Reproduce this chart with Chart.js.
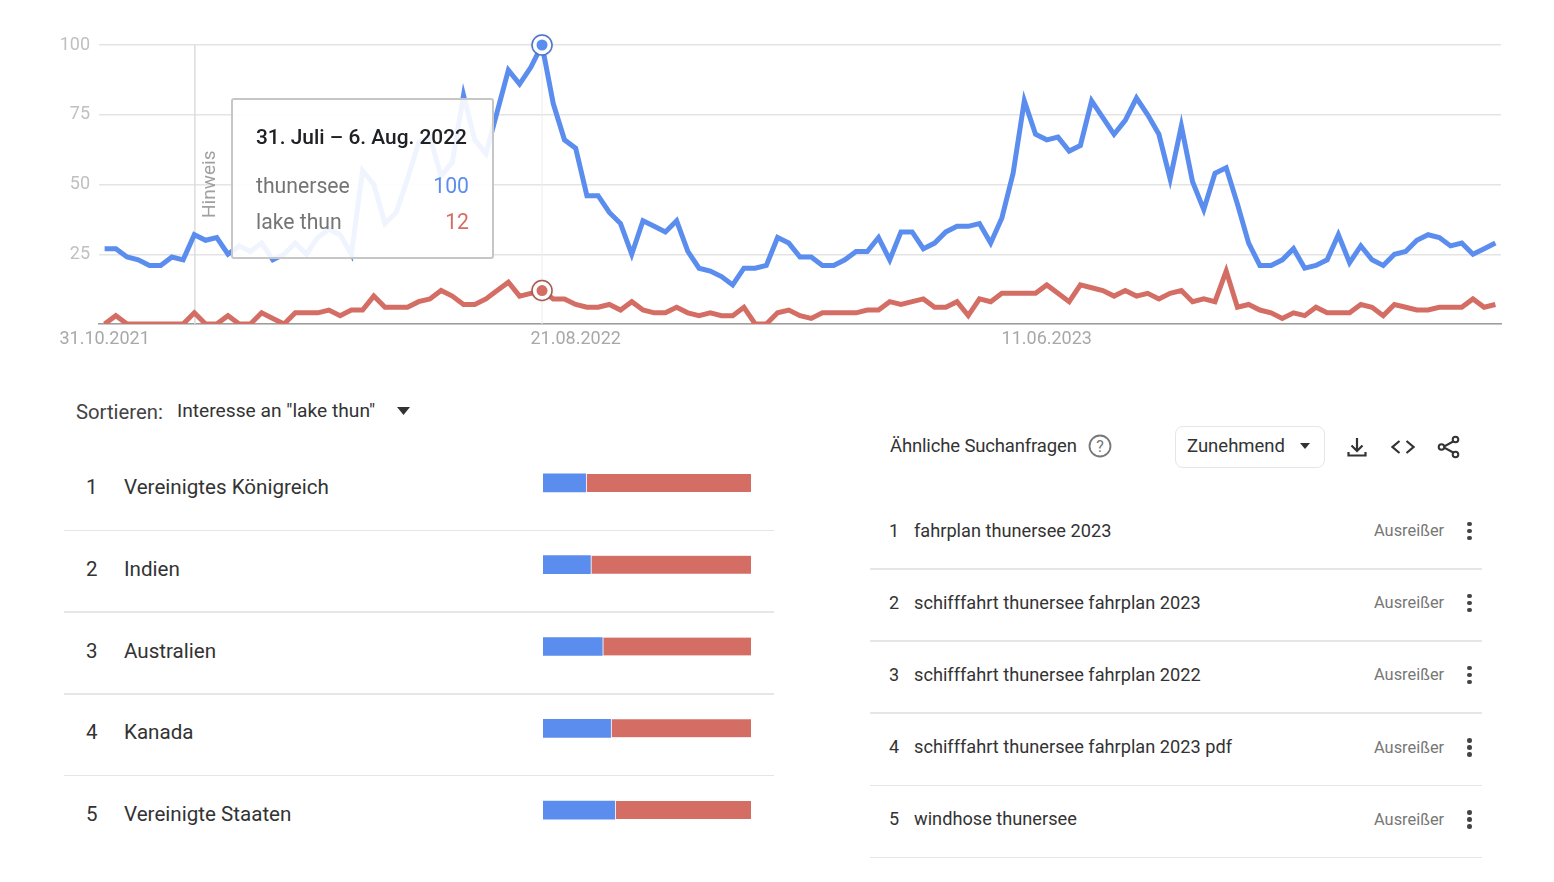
<!DOCTYPE html>
<html>
<head>
    <title>thunersee / lake thun</title>
    <script src="https://cdn.jsdelivr.net/npm/chart.js"></script>
    <style>
        html, body {
            margin: 0;
            padding: 0;
            background: #fff;
            overflow: hidden;
        }
        body {
            width: 1554px;
            height: 882px;
            position: relative;
            font-family: Roboto, sans-serif;
        }
        canvas, .txt, .line, .tooltip, svg {
            position: absolute;
        }
        .txt {
            white-space: nowrap;
            line-height: 1;
            transform: translateY(-50%);
        }
        .line {
            height: 1.5px;
            background: #e6e6e6;
        }
        .tooltip {
            left: 231px;
            top: 98px;
            width: 259px;
            height: 157px;
            border: 2px solid #c6c6c6;
            border-radius: 3px;
            background: rgba(255, 255, 255, 0.9);
        }
        .tooltip .txt {
            font-size: 21.2px;
            color: #757575;
        }
        .dropdown {
            position: absolute;
            left: 1175px;
            top: 426px;
            width: 148px;
            height: 40px;
            border: 1px solid #e6e6e6;
            border-radius: 8px;
        }
    </style>
</head>
<body>
    <canvas id="trendChart" width="1554" height="360" style="left:0;top:0"></canvas>
    <canvas id="shareChart" width="208" height="409" style="left:543px;top:442px"></canvas>

    <div class="tooltip" id="tooltip"></div>

    <div class="txt" style="left:76px;top:412px;font-size:20.3px;color:#444">Sortieren:</div>
    <div class="txt" style="left:177px;top:411px;font-size:19.2px;color:#333">Interesse an "lake thun"</div>
    <svg style="left:396px;top:406px" width="16" height="10"><path d="M1 1h13l-6.500 8z" fill="#333"/></svg>

    <div class="txt" style="left:890px;top:446px;font-size:18.500px;color:#333;letter-spacing:-0.15px">Ähnliche Suchanfragen</div>
    <svg style="left:1088px;top:434px" width="24" height="24">
        <circle cx="12" cy="12" r="10.500" fill="none" stroke="#777" stroke-width="1.800"/>
        <text x="12" y="18" text-anchor="middle" font-size="16" font-family="Roboto" fill="#777">?</text>
    </svg>
    <div class="dropdown"></div>
    <div class="txt" style="left:1187px;top:446px;font-size:18.500px;color:#333">Zunehmend</div>
    <svg style="left:1299px;top:442px" width="12" height="8"><path d="M1 1h10l-5 6z" fill="#333"/></svg>

    <svg style="left:1345px;top:435px" width="24" height="24" fill="none" stroke="#333" stroke-width="2.200">
        <path d="M12 3v13M6.500 10.500l5.500 5.500 5.500-5.500M3.500 17v3.500h17V17"/>
    </svg>
    <svg style="left:1391px;top:435px" width="24" height="24" fill="none" stroke="#333" stroke-width="2.200">
        <path d="M8.500 6l-7 6 7 6M15.500 6l7 6-7 6"/>
    </svg>
    <svg style="left:1437px;top:435px" width="24" height="24" fill="none" stroke="#333" stroke-width="2">
        <path d="M18 5.500L6 12l12 6.500"/>
        <circle cx="18.500" cy="4.500" r="2.800" fill="#fff"/>
        <circle cx="4.500" cy="12" r="2.800" fill="#fff"/>
        <circle cx="18.500" cy="19.500" r="2.800" fill="#fff"/>
    </svg>

    <script>
        const weeks = [
            '31.10.2021', '07.11.2021', '14.11.2021', '21.11.2021', '28.11.2021', '05.12.2021', '12.12.2021', '19.12.2021', '26.12.2021',
            '02.01.2022', '09.01.2022', '16.01.2022', '23.01.2022', '30.01.2022', '06.02.2022', '13.02.2022', '20.02.2022', '27.02.2022',
            '06.03.2022', '13.03.2022', '20.03.2022', '27.03.2022', '03.04.2022', '10.04.2022', '17.04.2022', '24.04.2022', '01.05.2022',
            '08.05.2022', '15.05.2022', '22.05.2022', '29.05.2022', '05.06.2022', '12.06.2022', '19.06.2022', '26.06.2022', '03.07.2022',
            '10.07.2022', '17.07.2022', '24.07.2022', '31.07.2022', '07.08.2022', '14.08.2022', '21.08.2022', '28.08.2022', '04.09.2022',
            '11.09.2022', '18.09.2022', '25.09.2022', '02.10.2022', '09.10.2022', '16.10.2022', '23.10.2022', '30.10.2022', '06.11.2022',
            '13.11.2022', '20.11.2022', '27.11.2022', '04.12.2022', '11.12.2022', '18.12.2022', '25.12.2022', '01.01.2023', '08.01.2023',
            '15.01.2023', '22.01.2023', '29.01.2023', '05.02.2023', '12.02.2023', '19.02.2023', '26.02.2023', '05.03.2023', '12.03.2023',
            '19.03.2023', '26.03.2023', '02.04.2023', '09.04.2023', '16.04.2023', '23.04.2023', '30.04.2023', '07.05.2023', '14.05.2023',
            '21.05.2023', '28.05.2023', '04.06.2023', '11.06.2023', '18.06.2023', '25.06.2023', '02.07.2023', '09.07.2023', '16.07.2023',
            '23.07.2023', '30.07.2023', '06.08.2023', '13.08.2023', '20.08.2023', '27.08.2023', '03.09.2023', '10.09.2023', '17.09.2023',
            '24.09.2023', '01.10.2023', '08.10.2023', '15.10.2023', '22.10.2023', '29.10.2023', '05.11.2023', '12.11.2023', '19.11.2023',
            '26.11.2023', '03.12.2023', '10.12.2023', '17.12.2023', '24.12.2023', '31.12.2023', '07.01.2024', '14.01.2024', '21.01.2024',
            '28.01.2024', '04.02.2024', '11.02.2024', '18.02.2024', '25.02.2024', '03.03.2024', '10.03.2024', '17.03.2024'
        ];
        const thunersee = [
            27, 27, 24, 23, 21, 21, 24, 23, 32, 30, 31, 25, 28, 26, 29, 23, 25, 29, 25, 31,
            34, 32, 25, 55, 50, 36, 40, 52, 65, 67, 53, 58, 82, 66, 61, 76, 91, 86, 92, 100,
            79, 66, 63, 46, 46, 40, 36, 25, 37, 35, 33, 37, 26, 20, 19, 17, 14, 20, 20, 21,
            31, 29, 24, 24, 21, 21, 23, 26, 26, 31, 23, 33, 33, 27, 29, 33, 35, 35, 36, 29,
            38, 54, 80, 68, 66, 67, 62, 64, 80, 74, 68, 73, 81, 75, 68, 52, 71, 51, 41, 54,
            56, 43, 29, 21, 21, 23, 27, 20, 21, 23, 32, 22, 28, 23, 21, 25, 26, 30, 32, 31,
            28, 29, 25, 27, 29
        ];
        const lakeThun = [
            0, 3, 0, 0, 0, 0, 0, 0, 4, 0, 0, 3, 0, 0, 4, 2, 0, 4, 4, 4,
            5, 3, 5, 5, 10, 6, 6, 6, 8, 9, 12, 10, 7, 7, 9, 12, 15, 10, 11, 12,
            9, 9, 7, 6, 6, 7, 5, 8, 5, 4, 4, 6, 4, 3, 4, 3, 3, 6, 0, 0,
            4, 5, 3, 2, 4, 4, 4, 4, 5, 5, 8, 7, 8, 9, 6, 6, 8, 3, 9, 8,
            11, 11, 11, 11, 14, 11, 8, 14, 13, 12, 10, 12, 10, 11, 9, 11, 12, 8, 9, 8,
            19, 6, 7, 5, 4, 2, 4, 3, 6, 4, 4, 4, 7, 6, 3, 7, 6, 5, 5, 6,
            6, 6, 9, 6, 7
        ];
        const yTicks = [25, 50, 75, 100];
        const xTickDates = ['31.10.2021', '21.08.2022', '11.06.2023'];
        const hintWeek = '26.12.2021';
        const hoverWeek = '31.07.2022';
        const hoverTitle = '31. Juli – 6. Aug. 2022';

        const countries = ['Vereinigtes Königreich', 'Indien', 'Australien', 'Kanada', 'Vereinigte Staaten'];
        const shareThunersee = [20.5, 22.8, 28.5, 32.5, 34.5];
        const shareLakeThun = [79.5, 77.2, 71.5, 67.5, 65.5];
        const queries = [
            'fahrplan thunersee 2023',
            'schifffahrt thunersee fahrplan 2023',
            'schifffahrt thunersee fahrplan 2022',
            'schifffahrt thunersee fahrplan 2023 pdf',
            'windhose thunersee'
        ];
        const queryValue = 'Ausreißer';

        const BLUE = '#5b8def';
        const RED = '#d46e64';

        function addText(parent, text, left, top, style) {
            const el = document.createElement('div');
            el.className = 'txt';
            el.textContent = text;
            el.style.left = left + 'px';
            el.style.top = top + 'px';
            Object.assign(el.style, style || {});
            parent.appendChild(el);
            return el;
        }

        function addLine(left, top, width) {
            const el = document.createElement('div');
            el.className = 'line';
            el.style.left = left + 'px';
            el.style.top = top + 'px';
            el.style.width = width + 'px';
            document.body.appendChild(el);
        }

        // Tooltip text, coordinates relative to the box
        const hoverIndex = weeks.indexOf(hoverWeek);
        const tip = document.getElementById('tooltip');
        addText(tip, hoverTitle, 23, 37, { color: '#202124', fontWeight: 500, fontSize: '20.9px' });
        addText(tip, 'thunersee', 23, 86);
        addText(tip, 'lake thun', 23, 122);
        addText(tip, String(thunersee[hoverIndex]), 0, 86, { left: 'auto', right: '23px', color: BLUE });
        addText(tip, String(lakeThun[hoverIndex]), 0, 122, { left: 'auto', right: '23px', color: RED });

        // Left table
        countries.forEach((name, i) => {
            const y = 487 + i * 81.75;
            addText(document.body, String(i + 1), 86, y, { fontSize: '20.5px', color: '#333' });
            addText(document.body, name, 124, y, { fontSize: '20.6px', color: '#333' });
            if (i < 4) addLine(64, y + 42.500, 710);
        });

        // Right table
        queries.forEach((name, i) => {
            const y = 530.500 + i * 72.2;
            addText(document.body, String(i + 1), 889, y, { fontSize: '18px', color: '#333' });
            addText(document.body, name, 914, y, { fontSize: '18.2px', color: '#333' });
            addText(document.body, queryValue, 1374, y + 0.500, { fontSize: '16.4px', color: '#777' });
            addLine(870, y + 37.500, 612);
            [-7, 0, 7].forEach(d => {
                const dot = document.createElement('div');
                dot.style.cssText = 'position:absolute;width:4.500px;height:4.500px;border-radius:50%;background:#444;left:1467px;top:' + (y + d - 2) + 'px';
                document.body.appendChild(dot);
            });
        });

        // Vertical lines, the "Hinweis" note and the two hover circles
        const trendMarks = {
            id: 'trendMarks',
            beforeDatasetsDraw(chart) {
                const ctx = chart.ctx;
                const area = chart.chartArea;
                const x = chart.scales.x;
                ctx.save();
                ctx.lineWidth = 1.500;
                ctx.strokeStyle = '#dcdcdc';
                const hx = x.getPixelForValue(weeks.indexOf(hintWeek)) + 0.500;
                ctx.beginPath();
                ctx.moveTo(hx, area.top);
                ctx.lineTo(hx, area.bottom);
                ctx.stroke();
                ctx.lineWidth = 1;
                ctx.strokeStyle = '#ededed';
                const px = x.getPixelForValue(hoverIndex);
                ctx.beginPath();
                ctx.moveTo(px, area.top);
                ctx.lineTo(px, area.bottom);
                ctx.stroke();
                ctx.translate(hx + 20, 218);
                ctx.rotate(-Math.PI / 2);
                ctx.font = '19px Roboto';
                ctx.fillStyle = '#a0a0a0';
                ctx.textAlign = 'left';
                ctx.textBaseline = 'alphabetic';
                ctx.fillText('Hinweis', 0, 0);
                ctx.restore();
            },
            afterDatasetsDraw(chart) {
                const ctx = chart.ctx;
                const rings = [
                    { value: thunersee[hoverIndex], fill: BLUE, stroke: '#4a74c9' },
                    { value: lakeThun[hoverIndex], fill: RED, stroke: '#a85a52' }
                ];
                const px = chart.scales.x.getPixelForValue(hoverIndex);
                rings.forEach(r => {
                    const py = chart.scales.y.getPixelForValue(r.value);
                    ctx.save();
                    ctx.shadowColor = 'rgba(0,0,0,0.25)';
                    ctx.shadowBlur = 3;
                    ctx.beginPath();
                    ctx.arc(px, py, 10, 0, Math.PI * 2);
                    ctx.fillStyle = '#fff';
                    ctx.fill();
                    ctx.shadowColor = 'transparent';
                    ctx.lineWidth = 1.500;
                    ctx.strokeStyle = r.stroke;
                    ctx.stroke();
                    ctx.beginPath();
                    ctx.arc(px, py, 5.500, 0, Math.PI * 2);
                    ctx.fillStyle = r.fill;
                    ctx.fill();
                    ctx.restore();
                });
            }
        };

        const lineStyle = {
            borderWidth: 5,
            borderJoinStyle: 'miter',
            borderCapStyle: 'butt',
            pointRadius: 0,
            tension: 0,
            fill: false,
            clip: { left: 10, top: 10, right: 10, bottom: 0 }
        };

        new Chart(document.getElementById('trendChart'), {
            type: 'line',
            data: {
                labels: weeks,
                datasets: [
                    { label: 'thunersee', data: thunersee, borderColor: BLUE, ...lineStyle },
                    { label: 'lake thun', data: lakeThun, borderColor: RED, ...lineStyle }
                ]
            },
            options: {
                responsive: false,
                animation: false,
                events: [],
                layout: { padding: { left: 0, right: 53, top: 45, bottom: 0 } },
                plugins: { legend: { display: false }, tooltip: { enabled: false } },
                scales: {
                    x: {
                        type: 'category',
                        offset: true,
                        afterFit(scale) { scale.height = 36; },
                        grid: { display: false, drawTicks: false },
                        border: { color: '#9c9c9c', width: 1.500 },
                        ticks: {
                            autoSkip: false,
                            maxRotation: 0,
                            minRotation: 0,
                            padding: 5,
                            color: '#a8a8a8',
                            font: { family: 'Roboto', size: 18 },
                            callback(value) {
                                const label = this.getLabelForValue(value);
                                return xTickDates.includes(label) ? label : '';
                            }
                        }
                    },
                    y: {
                        min: 0,
                        max: 100,
                        afterFit(scale) { scale.width = 99; },
                        afterBuildTicks(scale) {
                            scale.ticks = [0, ...yTicks].map(v => ({ value: v }));
                        },
                        grid: { color: '#e4e4e4', lineWidth: 1.500, drawTicks: false },
                        border: { display: false },
                        ticks: {
                            padding: 9,
                            color: '#c0c0c0',
                            font: { family: 'Roboto', size: 18 },
                            callback(value) {
                                return yTicks.includes(value) ? String(value) : '';
                            }
                        }
                    }
                }
            },
            plugins: [trendMarks]
        });

        new Chart(document.getElementById('shareChart'), {
            type: 'bar',
            data: {
                labels: countries,
                datasets: [
                    { label: 'thunersee', data: shareThunersee, backgroundColor: BLUE, barThickness: 18 },
                    {
                        label: 'lake thun',
                        data: shareLakeThun,
                        backgroundColor: RED,
                        barThickness: 18,
                        borderColor: '#fff',
                        borderWidth: { left: 1.500, right: 0, top: 0, bottom: 0 },
                        borderSkipped: false
                    }
                ]
            },
            options: {
                indexAxis: 'y',
                responsive: false,
                animation: false,
                events: [],
                layout: { padding: 0 },
                plugins: { legend: { display: false }, tooltip: { enabled: false } },
                scales: {
                    x: { display: false, stacked: true, min: 0, max: 100 },
                    y: { display: false, stacked: true }
                }
            }
        });
    </script>
</body>
</html>
